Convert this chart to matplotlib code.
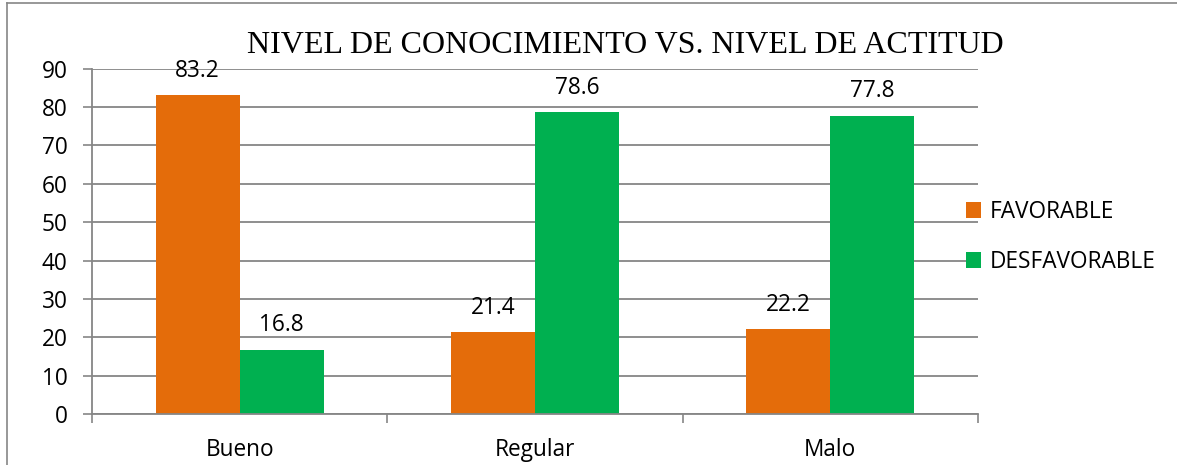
import matplotlib
matplotlib.use("Agg")
import matplotlib.pyplot as plt
import numpy as np
from matplotlib.lines import Line2D

categories = ["Bueno", "Regular", "Malo"]
series_names = ["FAVORABLE", "DESFAVORABLE"]
favorable = [83.2, 21.4, 22.2]
desfavorable = [16.8, 78.6, 77.8]
yticks = [0, 10, 20, 30, 40, 50, 60, 70, 80, 90]
title = "NIVEL DE CONOCIMIENTO VS. NIVEL DE ACTITUD"

colors = ["#E46C0A", "#00B050"]
W, H = 1177, 465
fig = plt.figure(figsize=(W / 100, H / 100), dpi=100)
ax = fig.add_axes([92 / W, 1 - 414 / H, (978 - 92) / W, (414 - 68.7) / H])

font = "Open Sans"
fs = 16.3
x = np.arange(len(categories)) + 0.5
bw = 84 / 295.3
b1 = ax.bar(x - bw / 2, favorable, bw, color=colors[0], label=series_names[0], zorder=3)
b2 = ax.bar(x + bw / 2, desfavorable, bw, color=colors[1], label=series_names[1], zorder=3)
for bars in (b1, b2):
    for r in bars:
        ax.annotate(f"{r.get_height():.1f}", (r.get_x() + r.get_width() / 2, r.get_height()),
                    xytext=(0, 13), textcoords="offset points", ha="center", va="baseline",
                    fontsize=fs, family=font, color="black", zorder=4)

ax.set_xlim(0, 3)
ax.set_ylim(0, 90)
ax.set_yticks(yticks)
ax.set_yticklabels([str(t) for t in yticks], fontsize=fs, family=font)
ax.set_xticks(x)
ax.set_xticklabels(categories, fontsize=fs, family=font)
ax.set_xticks([0, 1, 2, 3], minor=True)
ax.tick_params(axis="x", which="major", length=0, pad=17)
ax.tick_params(axis="x", which="minor", length=6.5, direction="out", color="#868686", width=1.2)
ax.tick_params(axis="y", length=6.5, direction="out", color="#868686", width=1.2, pad=11)
ax.grid(axis="y", color="#868686", linewidth=1.3, zorder=0)
for s in ("top", "right"):
    ax.spines[s].set_visible(False)
for s in ("left", "bottom"):
    ax.spines[s].set_color("#868686")
    ax.spines[s].set_linewidth(1.3)
    ax.spines[s].set_zorder(3.5)

fig.text(625 / W, 1 - 53 / H, title, ha="center", va="baseline", fontsize=23,
         family="Liberation Serif", color="black")

fig.legend(loc="center left", bbox_to_anchor=(966 / W, 1 - 237 / H), frameon=False,
           prop={"family": font, "size": fs}, handlelength=0.66, handleheight=0.66,
           handletextpad=0.4, labelspacing=1.15, borderpad=0, borderaxespad=0)

# outer chart border
fig.add_artist(Line2D([7 / W, 1.0], [1 - 3.5 / H, 1 - 3.5 / H], color="#868686", linewidth=1.2))
fig.add_artist(Line2D([7 / W, 7 / W], [0, 1 - 3.5 / H], color="#868686", linewidth=1.2))

fig.savefig("out.png", dpi=100)
